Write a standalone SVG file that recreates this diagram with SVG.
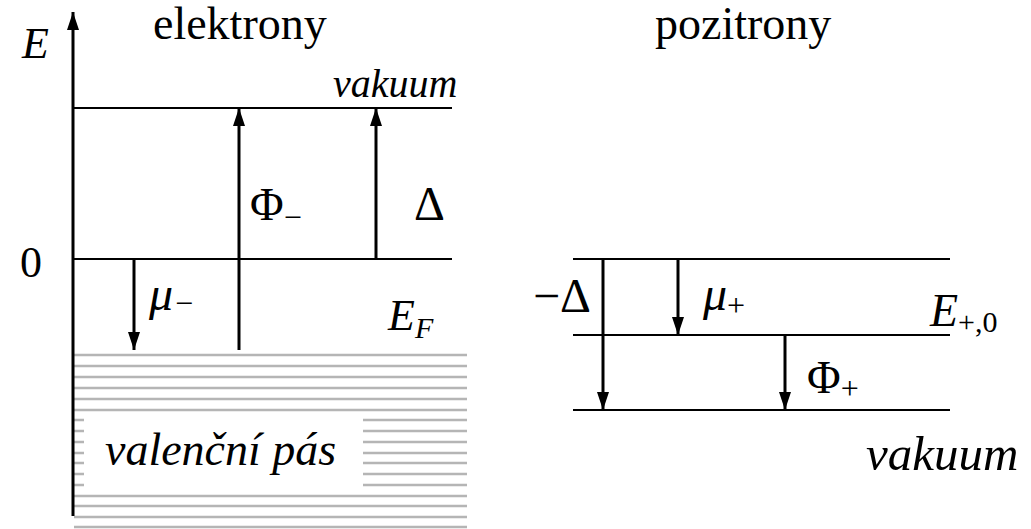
<svg xmlns="http://www.w3.org/2000/svg" width="1031" height="529" viewBox="0 0 1031 529">
<style>
.ln{stroke:#000;stroke-width:2;fill:none}
.ar{stroke:#000;stroke-width:3;fill:none}
.h{stroke:#b5b5b5;stroke-width:2.5}
</style>
<defs>
<marker id="ah2" viewBox="0 0 18 12" refX="18" refY="6" markerWidth="18" markerHeight="12" markerUnits="userSpaceOnUse" orient="auto">
<path d="M0,0 L18,6 L0,12 Z" fill="#000"/>
</marker>
</defs>
<rect width="1031" height="529" fill="#fff"/>
<g id="hatch">
<line class="h" x1="74" y1="355" x2="467" y2="355"/>
<line class="h" x1="74" y1="366" x2="467" y2="366"/>
<line class="h" x1="74" y1="377" x2="467" y2="377"/>
<line class="h" x1="74" y1="388" x2="467" y2="388"/>
<line class="h" x1="74" y1="399" x2="467" y2="399"/>
<line class="h" x1="74" y1="410" x2="467" y2="410"/>
<line class="h" x1="74" y1="420" x2="467" y2="420"/>
<line class="h" x1="74" y1="431" x2="467" y2="431"/>
<line class="h" x1="74" y1="442" x2="467" y2="442"/>
<line class="h" x1="74" y1="453" x2="467" y2="453"/>
<line class="h" x1="74" y1="463" x2="467" y2="463"/>
<line class="h" x1="74" y1="474" x2="467" y2="474"/>
<line class="h" x1="74" y1="485" x2="467" y2="485"/>
<line class="h" x1="74" y1="496" x2="467" y2="496"/>
<line class="h" x1="74" y1="506" x2="467" y2="506"/>
<line class="h" x1="74" y1="517" x2="467" y2="517"/>
<line class="h" x1="74" y1="527" x2="467" y2="527"/>
<rect x="84" y="413" width="279" height="77" fill="#fff"/>
</g>
<g id="levels">
<line class="ln" x1="73" y1="108" x2="452" y2="108"/>
<line class="ln" x1="73" y1="259" x2="452" y2="259"/>
<line class="ln" x1="573" y1="259" x2="950" y2="259"/>
<line class="ln" x1="573" y1="335" x2="950" y2="335"/>
<line class="ln" x1="573" y1="410" x2="950" y2="410"/>
</g>
<g id="connectors">
<line class="ar" stroke-width="2.5" x1="73" y1="516" x2="73" y2="12" marker-end="url(#ah2)"/>
<line class="ar" x1="239" y1="350" x2="239" y2="108" marker-end="url(#ah2)"/>
<line class="ar" x1="376" y1="259" x2="376" y2="108" marker-end="url(#ah2)"/>
<line class="ar" x1="134" y1="259" x2="134" y2="350" marker-end="url(#ah2)"/>
<line class="ar" x1="603" y1="259" x2="603" y2="410" marker-end="url(#ah2)"/>
<line class="ar" x1="678" y1="259" x2="678" y2="335" marker-end="url(#ah2)"/>
<line class="ar" x1="785" y1="335" x2="785" y2="410" marker-end="url(#ah2)"/>
</g>
<g id="labels" font-family="Liberation Serif, Times New Roman, Tinos, serif" fill="#000">
<text font-style="italic" x="22" y="58" font-size="44">E</text>
<text x="153" y="39" font-size="46">elektrony</text>
<text x="655" y="39" font-size="46">pozitrony</text>
<text font-style="italic" x="333" y="97" font-size="40">vakuum</text>
<text x="250" y="220" font-size="46">Φ<tspan font-size="32" dy="8">−</tspan></text>
<text x="414" y="220" font-size="48">Δ</text>
<text x="20" y="277" font-size="44">0</text>
<text font-style="italic" x="149" y="310" font-size="48">μ<tspan font-size="32" dy="4">−</tspan></text>
<text font-style="italic" x="388" y="330" font-size="44">E<tspan font-size="30" dy="8">F</tspan></text>
<text font-style="italic" x="105" y="465" font-size="46">valenční pás</text>
<text x="533" y="312" font-size="48">−Δ</text>
<text font-style="italic" x="703" y="310" font-size="48">μ<tspan font-style="normal" font-size="32" dy="6">+</tspan></text>
<text font-style="italic" x="930" y="326" font-size="46">E<tspan font-style="normal" font-size="30" dy="6">+,0</tspan></text>
<text x="807" y="393" font-size="46">Φ<tspan font-size="32" dy="6">+</tspan></text>
<text font-style="italic" x="866" y="470" font-size="49">vakuum</text>
</g>
</svg>
